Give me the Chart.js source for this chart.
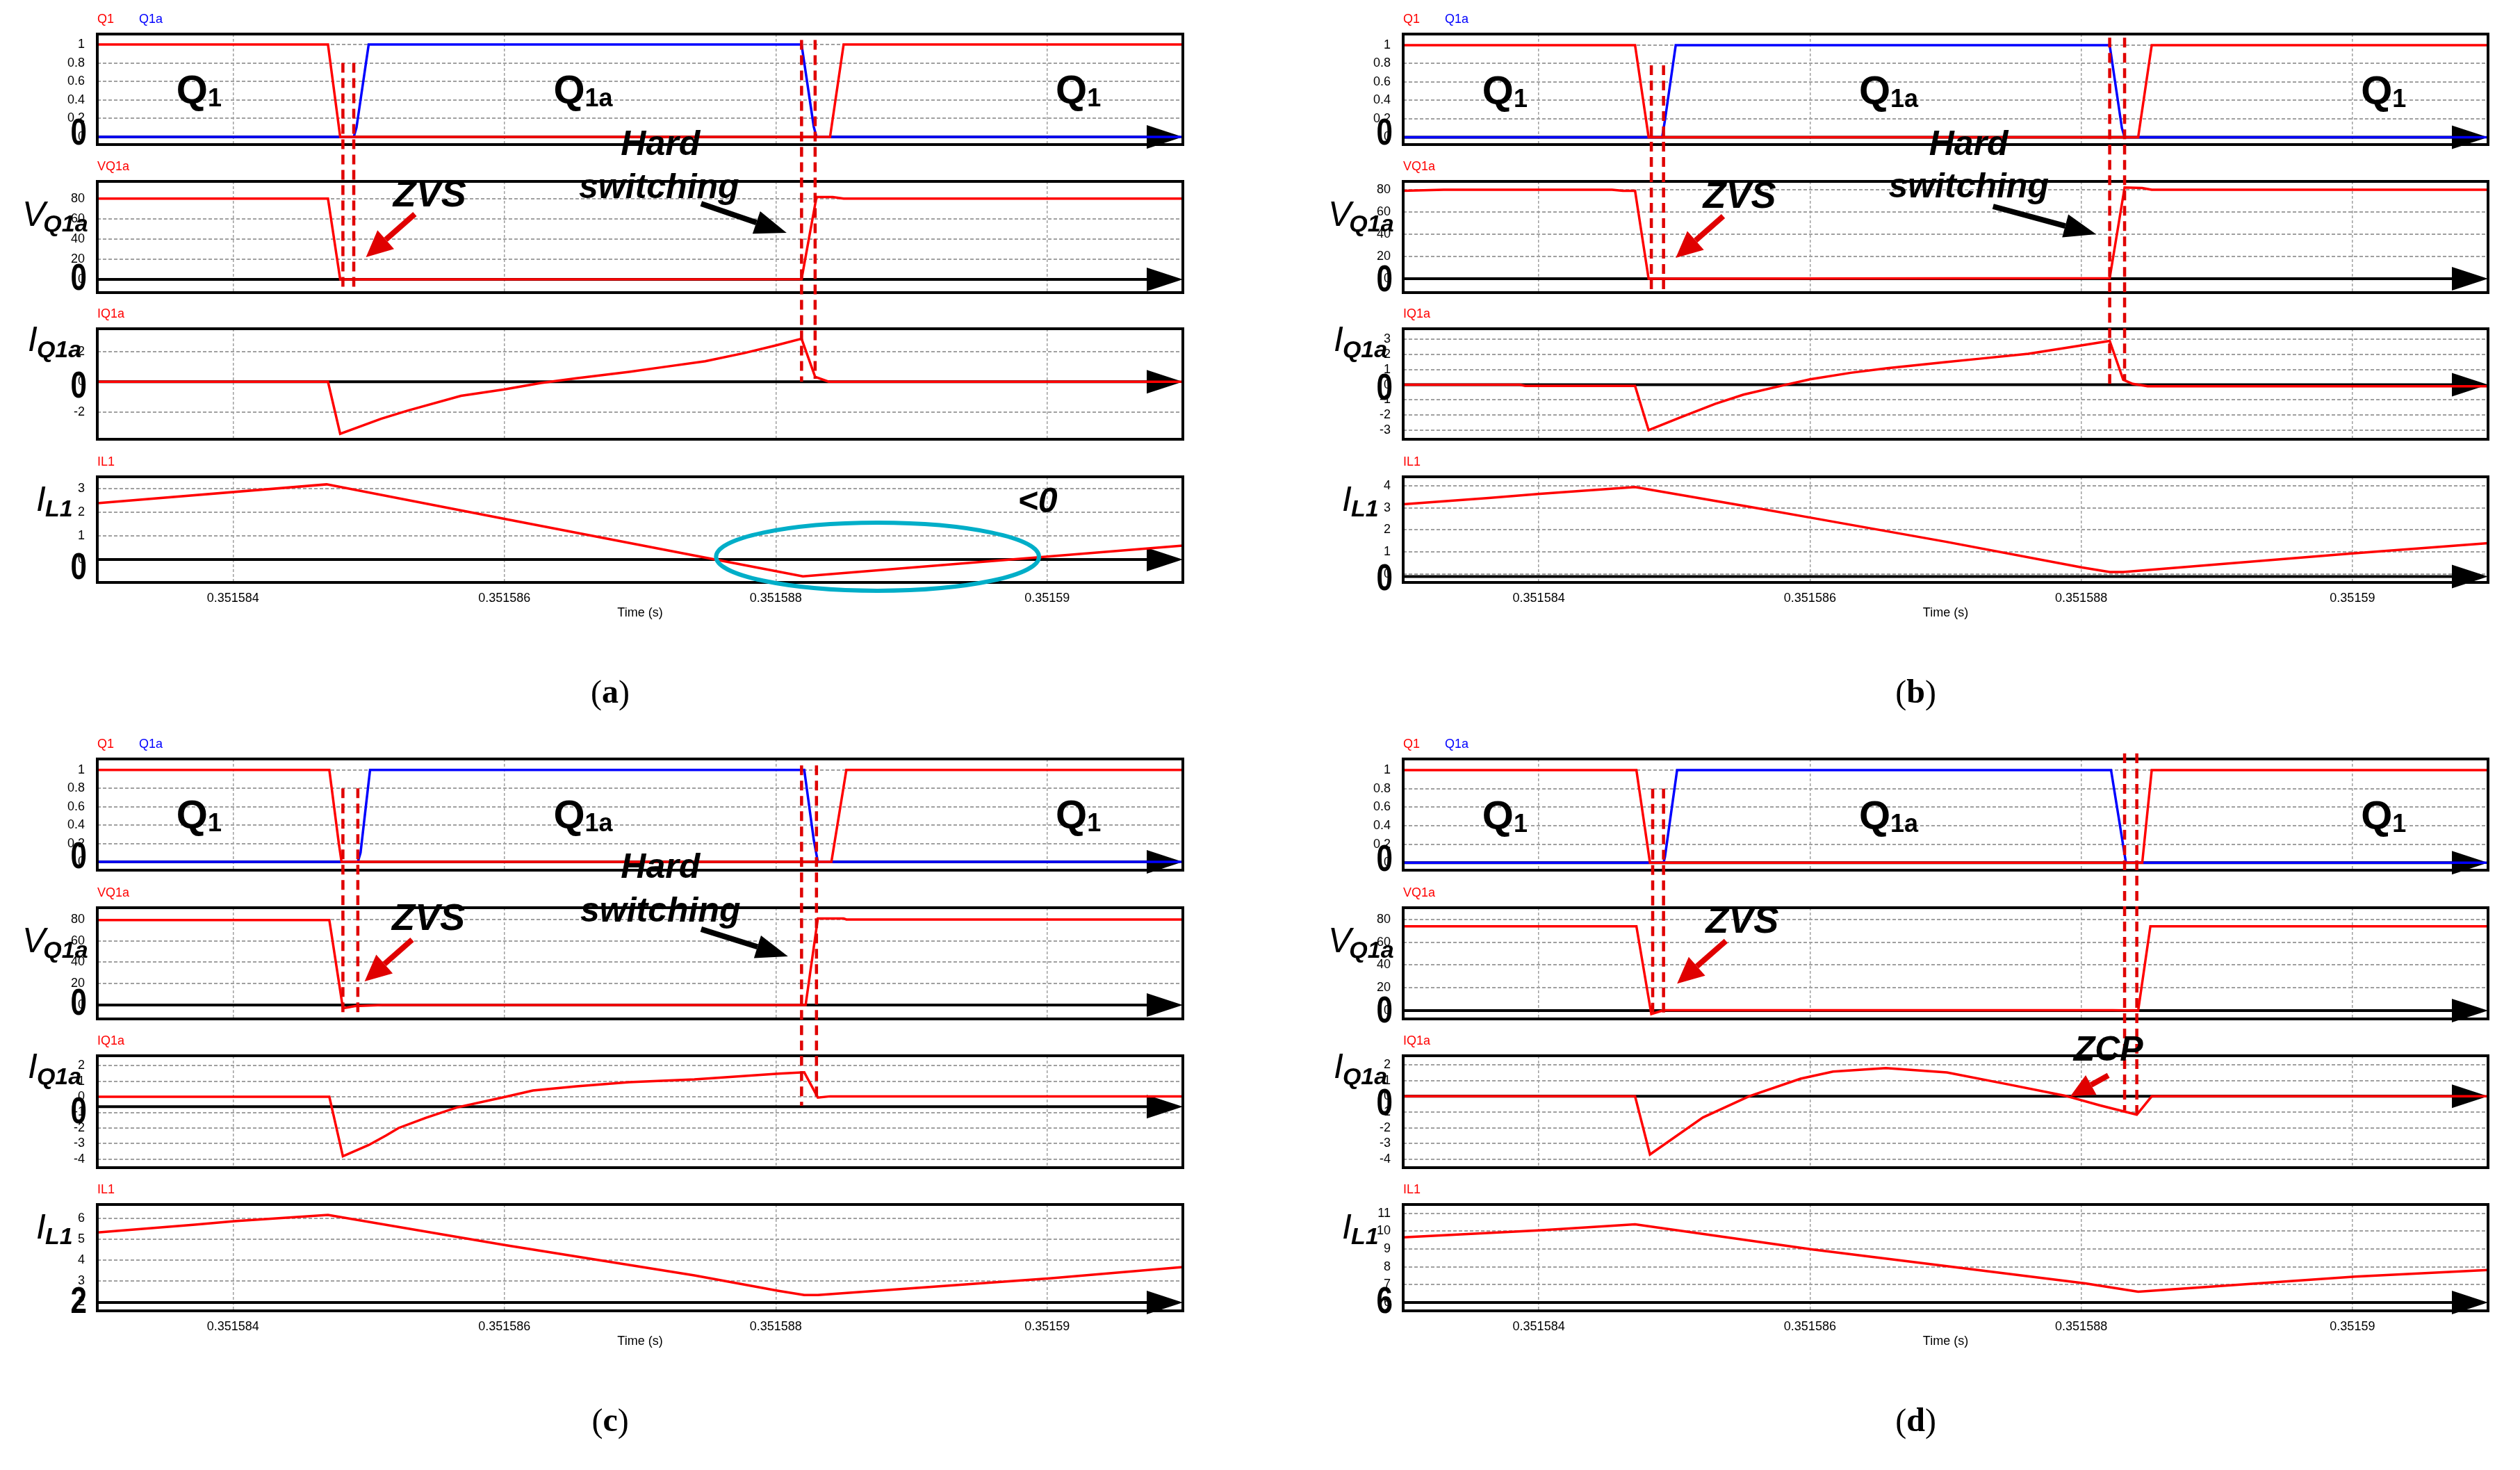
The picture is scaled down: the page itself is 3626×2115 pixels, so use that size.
<!DOCTYPE html>
<html>
<head>
<meta charset="utf-8">
<script src="https://cdn.jsdelivr.net/npm/chart.js@4"></script>
<style>
  html, body { margin: 0; padding: 0; background: #fff; }
  #page { position: relative; width: 3626px; height: 2115px; background: #fff; overflow: hidden; }
  #page canvas { position: absolute; }
</style>
</head>
<body>
<div id="page"></div>
<script>
const NARROW = "'Liberation Sans Narrow', 'Liberation Sans', Arial, sans-serif";
const SANS = "'Liberation Sans', Arial, sans-serif";
const SERIF = "'Liberation Serif', 'Times New Roman', serif";

// time axis in microseconds after 0.351580 s
const timeMin = 3, timeMax = 11;
const timeTicks = [4, 6, 8, 10];
const timeTickLabels = ['0.351584', '0.351586', '0.351588', '0.35159'];

// y ticks
const gateTicks = [0, 0.2, 0.4, 0.6, 0.8, 1];
const voltTicks = [0, 20, 40, 60, 80];
const aIQ1aTicks = [-2, 0, 2];
const bIQ1aTicks = [-3, -2, -1, 0, 1, 2, 3];
const cIQ1aTicks = [-4, -3, -2, -1, 0, 1, 2];
const dIQ1aTicks = [-4, -3, -2, -1, 0, 1, 2];
const aIL1Ticks = [0, 1, 2, 3];
const bIL1Ticks = [0, 1, 2, 3, 4];
const cIL1Ticks = [2, 3, 4, 5, 6];
const dIL1Ticks = [6, 7, 8, 9, 10, 11];

// ---- panel (a) ----
const aQ1 = [[3, 1], [4.70, 1], [4.79, 0], [8.40, 0], [8.50, 1], [11, 1]];
const aQ1a = [[3, 0], [4.89, 0], [4.91, 0.1], [5.00, 1], [8.19, 1], [8.28, 0.11], [8.30, 0], [11, 0]];
const aVQ1a = [[3, 80], [4.70, 80], [4.79, 0], [8.19, 0.3], [8.30, 81.5], [8.42, 81.5], [8.50, 80], [11, 80]];
const aIQ1a = [[3, 0], [4.70, 0], [4.79, -3.44], [5.09, -2.45], [5.29, -1.9], [5.68, -0.93], [6.00, -0.51],
  [6.27, -0.08], [6.53, 0.23], [6.92, 0.65], [7.18, 0.98], [7.48, 1.35], [7.77, 1.9], [8.00, 2.4],
  [8.19, 2.84], [8.29, 0.33], [8.39, 0], [11, 0]];
const aIL1 = [[3, 2.38], [4.69, 3.18], [6.00, 1.72], [7.40, 0.17], [8.20, -0.71], [11, 0.59]];

// ---- panel (b) ----
const bQ1 = [[3, 1], [4.71, 1], [4.81, 0], [8.42, 0], [8.52, 1], [11, 1]];
const bQ1a = [[3, 0], [4.91, 0], [4.93, 0.18], [5.01, 1], [8.21, 1], [8.30, 0.1], [8.32, 0], [11, 0]];
const bVQ1a = [[3, 79], [3.3, 80], [4.54, 80], [4.62, 79], [4.71, 79], [4.81, 0], [8.21, 0.5], [8.32, 82],
  [8.45, 81.5], [8.52, 80], [11, 80]];
const bIQ1a = [[3, 0], [3.86, 0], [3.90, -0.08], [4.71, -0.08], [4.81, -3.0], [5.04, -2.17], [5.30, -1.26],
  [5.51, -0.65], [5.82, 0], [6.00, 0.36], [6.30, 0.79], [6.57, 1.09], [7.00, 1.5], [7.25, 1.72],
  [7.61, 2.05], [8.00, 2.6], [8.21, 2.9], [8.31, 0.33], [8.38, 0.06], [8.49, -0.1], [11, -0.1]];
const bIL1 = [[3, 3.16], [3.63, 3.44], [4.01, 3.63], [4.71, 3.94], [5.57, 3.03], [6.00, 2.56], [7.00, 1.47],
  [8.00, 0.31], [8.21, 0.1], [8.31, 0.1], [10.00, 0.94], [11, 1.4]];

// ---- panel (c) ----
const cQ1 = [[3, 1], [4.71, 1], [4.78, 0.2], [4.80, 0], [8.41, 0], [8.52, 1], [11, 1]];
const cQ1a = [[3, 0], [4.92, 0], [4.94, 0.1], [5.01, 1], [8.21, 1], [8.28, 0.24], [8.31, 0], [11, 0]];
const cVQ1a = [[3, 79.5], [4.71, 79.5], [4.81, -3], [4.90, -1], [5.10, 0], [8.22, 0], [8.31, 81], [8.50, 81],
  [8.52, 80], [11, 80]];
const cIQ1a = [[3, 0], [4.71, 0], [4.81, -3.81], [5.00, -3.09], [5.13, -2.47], [5.22, -2.0], [5.42, -1.35],
  [5.65, -0.68], [6.01, 0], [6.21, 0.4], [6.53, 0.67], [6.92, 0.94], [7.40, 1.12], [8.02, 1.48],
  [8.21, 1.57], [8.31, -0.05], [8.40, 0.03], [11, 0.03]];
const cIL1 = [[3, 5.33], [3.72, 5.7], [4.01, 5.87], [4.70, 6.17], [6.00, 4.73], [7.40, 3.27], [8.02, 2.53],
  [8.21, 2.33], [8.31, 2.33], [10.02, 3.13], [11, 3.67]];

// ---- panel (d) ----
const dQ1 = [[3, 1], [4.72, 1], [4.82, 0], [8.45, 0], [8.52, 1], [11, 1]];
const dQ1a = [[3, 0], [4.92, 0], [4.93, 0.06], [5.02, 1], [8.22, 1], [8.33, 0], [11, 0]];
const dVQ1a = [[3, 74], [4.72, 74], [4.83, -3], [4.92, 0.3], [8.23, 0.3], [8.42, 0], [8.51, 74], [11, 74]];
const dIQ1a = [[3, 0], [4.71, 0], [4.82, -3.7], [5.21, -1.35], [5.55, 0], [5.93, 1.12], [6.17, 1.57],
  [6.56, 1.79], [7.01, 1.52], [7.46, 0.76], [7.88, 0.04], [8.14, -0.58], [8.41, -1.17], [8.52, 0], [11, 0]];
const dIL1 = [[3, 9.66], [4.00, 10.05], [4.71, 10.39], [6.02, 8.97], [8.03, 7.07], [8.42, 6.6], [10.02, 7.45],
  [11, 7.82]];

// layout of the sub-plot boxes
const colX = [140, 2019], colW = [1562, 1561];
const rowTops = [[49, 261, 473, 686], [1092, 1306, 1519, 1733]];
const rowHeights = [[159, 160, 159, 152], [160, 160, 161, 153]];

const RED = '#ff0000', BLUE = '#0000ff', DASHRED = '#e00000';

const panels = [
  {
    letter: 'a', col: 0, row: 0,
    series: [[[aQ1, RED], [aQ1a, BLUE]], [[aVQ1a, RED]], [[aIQ1a, RED]], [[aIL1, RED]]],
    ranges: [[-0.083, 1.113], [-13, 97], [-3.8, 3.5], [-0.97, 3.5]],
    ticks: [gateTicks, voltTicks, aIQ1aTicks, aIL1Ticks],
    axisAt: [0, 0, 0, 0], axisText: ['0', '0', '0', '0'], bigDy: [-4, 0, 8, 13],
    dashes: [[4.81, 0, 0.8, 1, -9], [4.89, 0, 0.8, 1, -9], [8.19, 0, 1.05, 2, 0], [8.29, 0, 1.05, 2, 0.2]],
    zvs: [1, 5.45, 72.3], zvsArrow: [1, 5.34, 64.7, 4.98, 22.1],
    hard: [0, 7.15, -0.196], sw: [1, 7.14, 80.5], hardArrow: [1, 7.45, 75, 8.08, 46.1],
    lt0: [3, 9.93, 2.0], ellipse: [3, 8.75, 0.12, 1.19, 1.44]
  },
  {
    letter: 'b', col: 1, row: 0,
    series: [[[bQ1, RED], [bQ1a, BLUE]], [[bVQ1a, RED]], [[bIQ1a, RED]], [[bIL1, RED]]],
    ranges: [[-0.08, 1.12], [-12.5, 87.5], [-3.6, 3.7], [-0.37, 4.4]],
    ticks: [gateTicks, voltTicks, bIQ1aTicks, bIL1Ticks],
    axisAt: [0, 0, 0, -0.1], axisText: ['0', '0', '0', '0'], bigDy: [-4, 3, 7, 5],
    dashes: [[4.83, 0, 0.78, 1, -9.4], [4.92, 0, 0.78, 1, -9.4], [8.21, 0, 1.08, 2, -0.05], [8.32, 0, 1.08, 2, 0.3]],
    zvs: [1, 5.48, 63.75], zvsArrow: [1, 5.36, 56.25, 5.01, 18.75],
    hard: [0, 7.17, -0.196], sw: [1, 7.17, 73.1], hardArrow: [1, 7.35, 65, 8.11, 40]
  },
  {
    letter: 'c', col: 0, row: 1,
    series: [[[cQ1, RED], [cQ1a, BLUE]], [[cVQ1a, RED]], [[cIQ1a, RED]], [[cIL1, RED]]],
    ranges: [[-0.09, 1.12], [-13, 91], [-4.54, 2.63], [1.57, 6.67]],
    ticks: [gateTicks, voltTicks, cIQ1aTicks, cIL1Ticks],
    axisAt: [0, 0, -0.63, 1.97], axisText: ['0', '0', '0', '2'], bigDy: [-6, -1, 9, 0],
    dashes: [[4.81, 0, 0.8, 1, -12], [4.92, 0, 0.8, 1, -7], [8.19, 0, 1.05, 2, -0.58], [8.30, 0, 1.05, 2, -0.3]],
    zvs: [1, 5.44, 70.2], zvsArrow: [1, 5.32, 61.1, 4.97, 22.1],
    hard: [0, 7.15, -0.17], sw: [1, 7.15, 78], hardArrow: [1, 7.45, 70.9, 8.09, 45.5]
  },
  {
    letter: 'd', col: 1, row: 1,
    series: [[[dQ1, RED], [dQ1a, BLUE]], [[dVQ1a, RED]], [[dIQ1a, RED]], [[dIL1, RED]]],
    ranges: [[-0.08, 1.12], [-7.3, 90.3], [-4.54, 2.58], [5.53, 11.5]],
    ticks: [gateTicks, voltTicks, dIQ1aTicks, dIL1Ticks],
    axisAt: [0, 0, 0, 6], axisText: ['0', '0', '0', '6'], bigDy: [-3, 2, 12, 0],
    dashes: [[4.84, 0, 0.8, 1, -4.2], [4.92, 0, 0.8, 1, -4.2], [8.32, 0, 1.18, 2, -0.9], [8.41, 0, 1.18, 2, -1.1]],
    zvs: [1, 5.50, 68.5], zvsArrow: [1, 5.38, 61.2, 5.02, 23.6],
    zcp: [2, 8.20, 2.27], zcpArrow: [2, 8.20, 1.33, 7.92, 0.0]
  }
];

const seriesNames = [[['Q1', RED, 0], ['Q1a', BLUE, 60]], [['VQ1a', RED, 0]], [['IQ1a', RED, 0]], [['IL1', RED, 0]]];
const qtyLabels = [null,
  { main: 'V', sub: 'Q1a', dx: -108, by: 64, sdx: -3, sdy: 8 },
  { main: 'I', sub: 'Q1a', dx: -100, by: 32, sdx: -1, sdy: 9 },
  { main: 'I', sub: 'L1', dx: -88, by: 49, sdx: -1, sdy: 8 }];
const gateLabels = [['Q', '1', 3.75], ['Q', '1a', 6.58], ['Q', '1', 10.23]];

const page = document.getElementById('page');

function drawSubText(ctx, x, y, main, sub, mainFont, subFont, sdx, sdy) {
  ctx.textAlign = 'left';
  ctx.textBaseline = 'alphabetic';
  ctx.font = mainFont;
  ctx.fillText(main, x, y);
  const w = ctx.measureText(main).width;
  ctx.font = subFont;
  ctx.fillText(sub, x + w + sdx, y + sdy);
}

function makeFrame(p, k) {
  return {
    id: 'frame' + p.letter + k,
    beforeDatasetsDraw(chart) {
      const { ctx, chartArea: a } = chart;
      const yy = chart.scales.y.getPixelForValue(p.axisAt[k]);
      ctx.save();
      ctx.strokeStyle = '#000';
      ctx.lineWidth = 4;
      ctx.beginPath();
      ctx.moveTo(a.left, yy);
      ctx.lineTo(a.right - 40, yy);
      ctx.stroke();
      ctx.fillStyle = '#000';
      ctx.beginPath();
      ctx.moveTo(a.right - 52, yy - 17);
      ctx.lineTo(a.right, yy);
      ctx.lineTo(a.right - 52, yy + 17);
      ctx.closePath();
      ctx.fill();
      ctx.restore();
    },
    afterDatasetsDraw(chart) {
      const { ctx, chartArea: a } = chart;
      const x = chart.scales.x, y = chart.scales.y;
      ctx.save();
      ctx.strokeStyle = '#000';
      ctx.lineWidth = 4;
      ctx.strokeRect(a.left, a.top, a.right - a.left, a.bottom - a.top);

      ctx.font = '18px ' + NARROW;
      ctx.textAlign = 'left';
      ctx.textBaseline = 'alphabetic';
      seriesNames[k].forEach(([name, color, dx]) => {
        ctx.fillStyle = color;
        ctx.fillText(name, a.left + dx, a.top - 16);
      });

      // big axis value, drawn condensed
      ctx.fillStyle = '#000';
      ctx.save();
      ctx.translate(a.left - 15, y.getPixelForValue(p.axisAt[k]) + p.bigDy[k]);
      ctx.scale(0.78, 1);
      ctx.font = 'bold 54px ' + SANS;
      ctx.textAlign = 'right';
      ctx.textBaseline = 'middle';
      ctx.fillText(p.axisText[k], 0, 0);
      ctx.restore();

      const q = qtyLabels[k];
      if (q) {
        drawSubText(ctx, a.left + q.dx, a.top + q.by, q.main, q.sub,
          'italic 50px ' + SANS, 'bold italic 34px ' + SANS, q.sdx, q.sdy);
      }

      if (k === 0) {
        gateLabels.forEach(([main, sub, t]) => {
          ctx.font = 'bold 58px ' + SANS;
          const w1 = ctx.measureText(main).width;
          ctx.font = 'bold 36px ' + SANS;
          const w2 = ctx.measureText(sub).width;
          const x0 = x.getPixelForValue(t) - (w1 + w2) / 2;
          drawSubText(ctx, x0, y.getPixelForValue(0.36), main, sub,
            'bold 58px ' + SANS, 'bold 36px ' + SANS, 0, 4);
        });
      }

      if (k === 3) {
        ctx.font = '18px ' + NARROW;
        ctx.textAlign = 'center';
        ctx.textBaseline = 'middle';
        ctx.fillText('Time (s)', x.getPixelForValue(7.0), a.bottom + 44);
      }
      ctx.restore();
    }
  };
}

function buildPanel(p) {
  p.charts = [];
  for (let k = 0; k < 4; k++) {
    const bx = colX[p.col], bw = colW[p.col];
    const by = rowTops[p.row][k], bh = rowHeights[p.row][k];
    // bottom room must exceed the half-label + tick padding the y axis asks for
    const padL = 130, padR = 8, padT = 46, padB = k === 3 ? 70 : 32;
    const cv = document.createElement('canvas');
    cv.width = bw + padL + padR;
    cv.height = bh + padT + padB;
    cv.style.left = (bx - padL) + 'px';
    cv.style.top = (by - padT) + 'px';
    page.appendChild(cv);

    const datasets = p.series[k].map(([data, color]) => ({
      data: data,
      borderColor: color,
      backgroundColor: color,
      borderWidth: 3.5,
      pointRadius: 0,
      tension: 0,
      fill: false
    }));
    const yTicks = p.ticks[k];
    const [yMin, yMax] = p.ranges[k];

    const chart = new Chart(cv, {
      type: 'line',
      data: { datasets },
      options: {
        responsive: false,
        animation: false,
        devicePixelRatio: 1,
        layout: { padding: { left: 0, right: padR, top: padT, bottom: k === 3 ? 0 : padB } },
        plugins: { legend: { display: false }, tooltip: { enabled: false } },
        scales: {
          x: {
            type: 'linear',
            min: timeMin,
            max: timeMax,
            afterBuildTicks: s => { s.ticks = timeTicks.map(v => ({ value: v })); },
            afterFit: s => { s.height = k === 3 ? padB : 0; },
            grid: { color: '#a0a0a0', lineWidth: 1.5, drawTicks: false },
            border: { display: false, dash: [4, 3] },
            ticks: {
              display: k === 3,
              padding: 12,
              autoSkip: false,
              maxRotation: 0,
              color: '#000',
              font: { family: NARROW, size: 18 },
              callback: v => timeTickLabels[timeTicks.indexOf(v)]
            }
          },
          y: {
            min: yMin,
            max: yMax,
            afterBuildTicks: s => { s.ticks = yTicks.map(v => ({ value: v })); },
            afterFit: s => { s.width = padL; },
            grid: { color: '#a0a0a0', lineWidth: 2, drawTicks: false },
            border: { display: false, dash: [5, 3] },
            ticks: {
              padding: 18,
              color: '#000',
              font: { family: NARROW, size: 18 },
              callback: v => String(v)
            }
          }
        }
      },
      plugins: [makeFrame(p, k)]
    });
    p.charts.push(chart);
  }
}

panels.forEach(buildPanel);

// overlay for annotations that run across sub-plots
const ov = document.createElement('canvas');
ov.width = 3626;
ov.height = 2115;
ov.style.left = '0px';
ov.style.top = '0px';
page.appendChild(ov);
const octx = ov.getContext('2d');

function P(p, k, t, v) {
  const c = p.charts[k];
  return [parseFloat(c.canvas.style.left) + c.scales.x.getPixelForValue(t),
          parseFloat(c.canvas.style.top) + c.scales.y.getPixelForValue(v)];
}

function arrow(ctx, x1, y1, x2, y2, color, width, len, half) {
  const ang = Math.atan2(y2 - y1, x2 - x1);
  const bx = x2 - len * Math.cos(ang), by = y2 - len * Math.sin(ang);
  ctx.strokeStyle = color;
  ctx.fillStyle = color;
  ctx.lineWidth = width;
  ctx.lineCap = 'butt';
  ctx.beginPath();
  ctx.moveTo(x1, y1);
  ctx.lineTo(bx, by);
  ctx.stroke();
  ctx.beginPath();
  ctx.moveTo(x2, y2);
  ctx.lineTo(bx + half * Math.sin(ang), by - half * Math.cos(ang));
  ctx.lineTo(bx - half * Math.sin(ang), by + half * Math.cos(ang));
  ctx.closePath();
  ctx.fill();
}

function label(p, spec, text, font) {
  const [k, t, v] = spec;
  const [x, y] = P(p, k, t, v);
  octx.font = font;
  octx.fillStyle = '#000';
  octx.textAlign = 'center';
  octx.textBaseline = 'alphabetic';
  octx.fillText(text, x, y);
}

panels.forEach(p => {
  // dashed switching markers
  octx.save();
  octx.strokeStyle = DASHRED;
  octx.lineWidth = 4.5;
  octx.setLineDash([14, 8]);
  p.dashes.forEach(([t, k1, v1, k2, v2]) => {
    const [x1, y1] = P(p, k1, t, v1);
    const [, y2] = P(p, k2, t, v2);
    octx.beginPath();
    octx.moveTo(x1, y1);
    octx.lineTo(x1, y2);
    octx.stroke();
  });
  octx.restore();

  const bi50 = 'bold italic 50px ' + SANS;
  label(p, p.zvs, 'ZVS', 'bold italic 54px ' + SANS);
  {
    const [k, t1, v1, t2, v2] = p.zvsArrow;
    const [x1, y1] = P(p, k, t1, v1), [x2, y2] = P(p, k, t2, v2);
    arrow(octx, x1, y1, x2, y2, DASHRED, 8, 38, 18);
  }
  if (p.hard) {
    label(p, p.hard, 'Hard', bi50);
    label(p, p.sw, 'switching', bi50);
    const [k, t1, v1, t2, v2] = p.hardArrow;
    const [x1, y1] = P(p, k, t1, v1), [x2, y2] = P(p, k, t2, v2);
    arrow(octx, x1, y1, x2, y2, '#000', 8, 46, 17);
  }
  if (p.zcp) {
    label(p, p.zcp, 'ZCP', bi50);
    const [k, t1, v1, t2, v2] = p.zcpArrow;
    const [x1, y1] = P(p, k, t1, v1), [x2, y2] = P(p, k, t2, v2);
    arrow(octx, x1, y1, x2, y2, DASHRED, 8, 34, 16);
  }
  if (p.lt0) {
    label(p, p.lt0, '<0', bi50);
    const [k, t, v, rt, rv] = p.ellipse;
    const [cx, cy] = P(p, k, t, v);
    const [ex] = P(p, k, t + rt, v);
    const [, ey] = P(p, k, t, v + rv);
    octx.save();
    octx.strokeStyle = '#00aec8';
    octx.lineWidth = 6;
    octx.beginPath();
    octx.ellipse(cx, cy, ex - cx, cy - ey, 0, 0, Math.PI * 2);
    octx.stroke();
    octx.restore();
  }

  // panel letter below the time axis
  const c3 = p.charts[3];
  const lx = parseFloat(c3.canvas.style.left) + c3.scales.x.getPixelForValue(6.78);
  const ly = parseFloat(c3.canvas.style.top) + c3.chartArea.bottom + 161;
  octx.textBaseline = 'middle';
  octx.textAlign = 'left';
  octx.fillStyle = '#000';
  octx.font = '48px ' + SERIF;
  const wp = octx.measureText('(').width;
  octx.font = 'bold 48px ' + SERIF;
  const wl = octx.measureText(p.letter).width;
  const lx0 = lx - (wp + wl + wp) / 2;
  octx.font = '48px ' + SERIF;
  octx.fillText('(', lx0, ly);
  octx.font = 'bold 48px ' + SERIF;
  octx.fillText(p.letter, lx0 + wp, ly);
  octx.font = '48px ' + SERIF;
  octx.fillText(')', lx0 + wp + wl, ly);
});
</script>
</body>
</html>
